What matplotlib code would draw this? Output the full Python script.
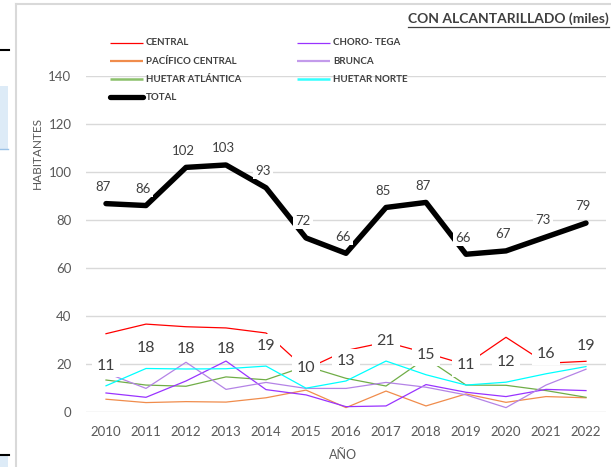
import matplotlib
matplotlib.use('Agg')
import matplotlib.pyplot as plt
from matplotlib.lines import Line2D
from matplotlib.patches import Rectangle

plt.rcParams['font.family'] = ['Lato', 'DejaVu Sans']

years = [2010, 2011, 2012, 2013, 2014, 2015, 2016, 2017, 2018, 2019, 2020, 2021, 2022]

# miles de habitantes con alcantarillado, por region
central = [32.5, 36.5, 35.4, 34.9, 32.8, 17.7, 25.5, 29.0, 24.5, 19.6, 31.0, 20.2, 21.0]
chorotega = [7.8, 6.0, 12.8, 21.1, 9.2, 7.0, 2.1, 2.4, 11.3, 8.1, 6.3, 9.3, 8.8]
pacifico = [5.2, 3.8, 4.2, 4.0, 5.8, 9.0, 1.7, 8.6, 2.4, 7.4, 3.9, 6.3, 5.8]
brunca = [16.2, 9.7, 20.6, 9.3, 12.2, 9.7, 9.7, 12.2, 10.2, 7.0, 1.7, 11.1, 17.7]
huetar_atl = [13.2, 11.1, 10.6, 14.5, 13.3, 19.0, 13.9, 10.7, 22.3, 11.1, 11.0, 8.8, 6.0]
huetar_norte = [10.8, 18.0, 17.8, 17.9, 19.0, 9.8, 12.8, 21.1, 15.4, 11.1, 12.3, 15.8, 18.8]
total = [86.7, 85.9, 101.8, 102.8, 93.3, 72.4, 66.0, 85.1, 87.2, 65.6, 67.0, 72.8, 78.6]

W, H = 611, 467
fig = plt.figure(figsize=(W / 100, H / 100), dpi=100)
fig.patch.set_facecolor('white')

# plot area in pixels: x 86..606, y(0)=411.7, y(140)=75.7
ax = fig.add_axes([86 / W, (H - 411.7) / H, 520 / W, 336 / H])
ax.set_xlim(2009.5, 2022.5)
ax.set_ylim(0, 140)
ax.set_yticks(range(0, 141, 20))
ax.set_xticks(years)
ax.grid(axis='y', color='#D9D9D9', lw=1.0, zorder=0)
for s in ax.spines.values():
    s.set_visible(False)
ax.tick_params(length=0, labelsize=9.5, colors='#595959', pad=10)
ax.tick_params(axis='y', pad=10.5)
ax.set_facecolor('none')

series = [
    ('CENTRAL', central, '#FF0000'),
    ('PACÍFICO CENTRAL', pacifico, '#F08C4C'),
    ('HUETAR ATLÁNTICA', huetar_atl, '#70AD47'),
    ('CHORO- TEGA', chorotega, '#9933FF'),
    ('BRUNCA', brunca, '#B483E6'),
    ('HUETAR NORTE', huetar_norte, '#00FFFF'),
]
for name, vals, col in series:
    ax.plot(years, vals, color=col, lw=0.9, zorder=2)

ax.plot(years, total, color='black', lw=3.9, zorder=3, solid_capstyle='round')

# data labels: total and huetar norte, white boxes like the source
for x, v in zip(years, total):
    ax.annotate(f'{v:.0f}', (x, v), xytext=(-2, 12), textcoords='offset points',
                ha='center', va='center', fontsize=9.5, color='#404040', zorder=6,
                bbox=dict(facecolor='white', edgecolor='none', pad=1.5))
for x, v in zip(years, huetar_norte):
    ax.annotate(f'{v:.0f}', (x, v), xytext=(0, 14.5), textcoords='offset points',
                ha='center', va='center', fontsize=11.5, color='#404040', zorder=6,
                bbox=dict(facecolor='white', edgecolor='none', pad=3.5))

# manual legend, two columns like the excel chart
legend_rows = [
    [('CENTRAL', '#FF0000', 0.9), ('CHORO- TEGA', '#9933FF', 0.9)],
    [('PACÍFICO CENTRAL', '#F08C4C', 1.6), ('BRUNCA', '#C39BEB', 1.6)],
    [('HUETAR ATLÁNTICA', '#8BC06A', 1.8), ('HUETAR NORTE', '#33FFFF', 1.8)],
    [('TOTAL', 'black', 3.8)],
]
col_x = [110, 297]
row_y = [42.7, 61, 79, 97]
for r, row in enumerate(legend_rows):
    for c, (name, col, lw) in enumerate(row):
        x0 = col_x[c]
        y = 1 - row_y[r] / H
        fig.add_artist(Line2D([x0 / W, (x0 + 33) / W], [y, y], color=col, lw=lw,
                              solid_capstyle='round' if name == 'TOTAL' else 'butt'))
        fig.text((x0 + 36) / W, y, name, fontsize=7, fontweight='bold',
                 color='#404040', ha='left', va='center')

fig.text(37 / W, 1 - 153 / H, 'HABITANTES', rotation=90, fontsize=8.5,
         color='#595959', ha='center', va='center')
fig.text(343 / W, 1 - 455 / H, 'AÑO', fontsize=9, color='#595959',
         ha='center', va='center')

title = fig.text(609 / W, 1 - 19 / H, 'CON ALCANTARILLADO (miles)', fontsize=10,
                 fontweight='bold', color='#404040', ha='right', va='center')

# screenshot frame bits on the left / top
fig.add_artist(Line2D([16 / W, 16 / W], [0, 1 - 4 / H], color='#D9D9D9', lw=1.5))
fig.add_artist(Line2D([16 / W, 1], [1 - 4 / H, 1 - 4 / H], color='#D9D9D9', lw=1.5))
fig.add_artist(Line2D([0, 9 / W], [1 - 50 / H, 1 - 50 / H], color='black', lw=1.5))
fig.add_artist(Rectangle((0, 1 - 149 / H), 8 / W, 63 / H, transform=fig.transFigure,
                         facecolor='#DDEBF7', edgecolor='none'))
fig.add_artist(Line2D([0, 8 / W], [1 - 149 / H, 1 - 149 / H], color='#9BC2E6', lw=1))
fig.add_artist(Rectangle((0, 0), 8 / W, 12 / H, transform=fig.transFigure,
                         facecolor='#DDEBF7', edgecolor='none'))
fig.add_artist(Line2D([0, 9 / W], [12 / H, 12 / H], color='black', lw=1.5))

# underline for the title
fig.canvas.draw()
bb = title.get_window_extent().transformed(fig.transFigure.inverted())
uy = bb.y0 - 1.5 / H
fig.add_artist(Line2D([bb.x0, bb.x1], [uy, uy], color='#404040', lw=0.9))

fig.savefig('out.png', dpi=100, facecolor='white')
